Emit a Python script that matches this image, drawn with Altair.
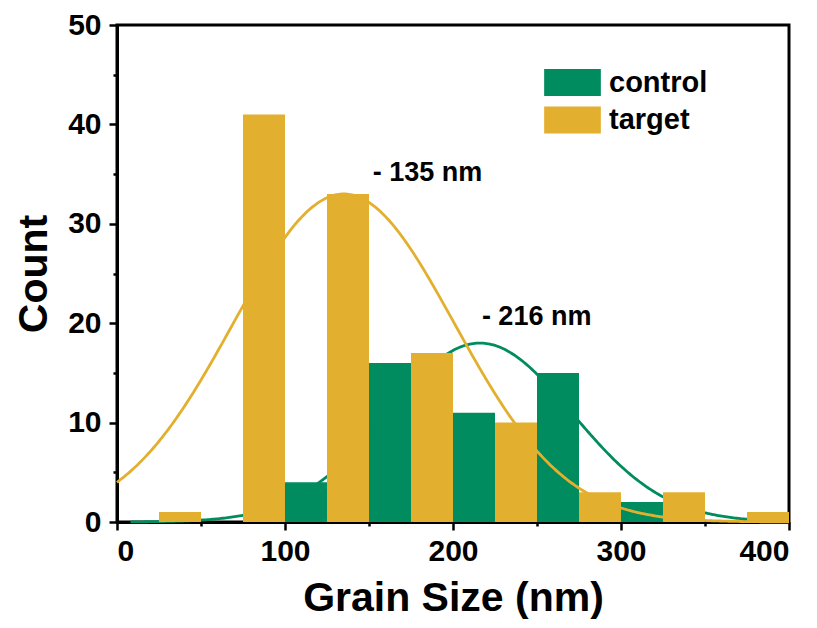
import altair as alt
import pandas as pd

# ---- data ----
series = ["control", "target"]
series_colors = ["#008C5E", "#E3AF2E"]

control_bin_start = [100, 150, 200, 250, 300]
control_bin_end = [125, 175, 225, 275, 325]
control_count = [4, 16, 11, 15, 2]

target_bin_start = [25, 75, 125, 175, 225, 275, 325, 375]
target_bin_end = [50, 100, 150, 200, 250, 300, 350, 400]
target_count = [1, 41, 33, 17, 10, 3, 3, 1]

# Gaussian fit parameters (control, target)
fit_center = [216, 135]
fit_amplitude = [18, 33]
fit_sigma = [55, 65.7]
fit_from = [8, 0]
fit_to = [392, 400]
peak_labels = ["- 216 nm", "- 135 nm"]

x_ticks = [0, 50, 100, 150, 200, 250, 300, 350, 400]
y_ticks = [0, 5, 10, 15, 20, 25, 30, 35, 40, 45, 50]

FONT = "Liberation Sans"

control_df = pd.DataFrame({"start": control_bin_start, "end": control_bin_end,
                           "count": control_count, "series": series[0]})
target_df = pd.DataFrame({"start": target_bin_start, "end": target_bin_end,
                          "count": target_count, "series": series[1]})

xscale = alt.Scale(domain=[0, 400], nice=False, zero=False)
yscale = alt.Scale(domain=[0, 50], nice=False)
cscale = alt.Scale(domain=series, range=series_colors)

xaxis = alt.Axis(values=x_ticks, labelExpr="datum.value % 100 === 0 ? datum.label : ''",
                 title="Grain Size (nm)", grid=False,
                 tickSize={"condition": {"test": "datum.value % 100 === 0", "value": 8}, "value": 4},
                 labelPadding=6, titlePadding=12)
yaxis = alt.Axis(values=y_ticks, labelExpr="datum.value % 10 === 0 ? datum.label : ''",
                 title="Count", grid=False,
                 tickSize={"condition": {"test": "datum.value % 10 === 0", "value": 8}, "value": 4},
                 labelPadding=8, titlePadding=12)

legend = alt.Legend(title=None, orient="none", legendX=441, legendY=43,
                    symbolType="M-2.1,-1H2.1V1H-2.1Z", symbolSize=729,
                    symbolStrokeWidth=0, symbolOpacity=1,
                    labelFontSize=29, labelFont=FONT, labelFontWeight="bold",
                    labelColor="black", labelOffset=22, rowPadding=7.5)


def bars(df):
    return alt.Chart(df).mark_rect(opacity=1, strokeWidth=0).encode(
        x=alt.X("start:Q", scale=xscale, axis=xaxis),
        x2="end:Q",
        y=alt.Y("count:Q", scale=yscale, axis=yaxis),
        y2=alt.datum(0),
        color=alt.Color("series:N", scale=cscale, legend=legend),
    )


def curve(i):
    expr = (f"{fit_amplitude[i]} * exp(-pow(datum.x - {fit_center[i]}, 2) / "
            f"(2 * {fit_sigma[i]} * {fit_sigma[i]}))")
    return alt.Chart(alt.sequence(fit_from[i], fit_to[i] + 0.5, 1, as_="x")).transform_calculate(
        y=expr
    ).mark_line(strokeWidth=2.8, color=series_colors[i]).encode(
        x=alt.X("x:Q", scale=xscale),
        y=alt.Y("y:Q", scale=yscale),
    )


def label(i, dx, dy):
    df = pd.DataFrame({"x": [fit_center[i]], "y": [fit_amplitude[i]], "t": [peak_labels[i]]})
    return alt.Chart(df).mark_text(align="left", baseline="middle", dx=dx, dy=dy,
                                   font=FONT, fontWeight="bold", fontSize=27,
                                   color="black").encode(
        x=alt.X("x:Q", scale=xscale), y=alt.Y("y:Q", scale=yscale), text="t:N")


chart = alt.layer(
    bars(control_df), curve(0), bars(target_df), curve(1),
    label(1, 29, -21), label(0, 2, -26),
).properties(
    width=672, height=497,
    autosize=alt.AutoSizeParams(type="none"),
    padding={"left": 109, "top": 17, "right": 20, "bottom": 104},
).configure_view(
    stroke="black", strokeWidth=3
).configure_axis(
    domainColor="black", domainWidth=3, tickColor="black", tickWidth=2.5,
    labelColor="black", titleColor="black",
    labelFont=FONT, titleFont=FONT, labelFontWeight="bold", titleFontWeight="bold",
    labelFontSize=30, titleFontSize=41,
)

chart.save("out.html", embed_options={"renderer": "svg", "actions": False})
